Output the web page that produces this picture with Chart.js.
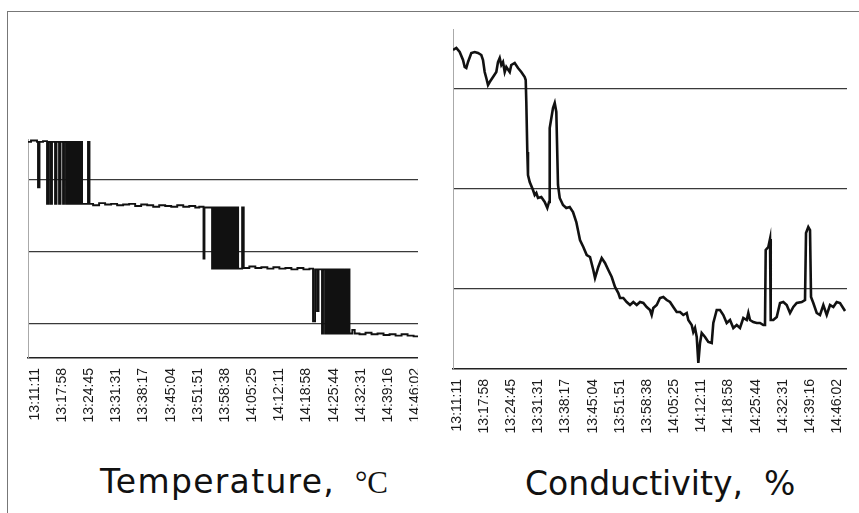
<!DOCTYPE html>
<html>
<head>
<meta charset="utf-8">
<script src="https://cdn.jsdelivr.net/npm/chart.js@4.4.1/dist/chart.umd.min.js"></script>
<style>
    html, body { margin: 0; padding: 0; background: #fff; }
    .page { position: relative; width: 859px; height: 513px; overflow: hidden; }
    .frame { position: absolute; left: 7px; top: 11px; width: 860px; height: 520px;
             border-top: 1px solid #777; border-left: 1px solid #777; }
    canvas { position: absolute; }
    #tempChart { left: 24px; top: 139px; }
    #condChart { left: 449px; top: 29px; }
    .title { position: absolute; font-family: 'DejaVu Sans', Verdana, sans-serif; font-size: 33px;
             line-height: 33px; color: #111; white-space: pre; }
    .title .unit { font-family: 'Liberation Serif', 'Times New Roman', serif; font-size: 31px;
                   letter-spacing: 0; margin-left: 8px; }
    #tempTitle { left: 100px; top: 465px; letter-spacing: 1.3px; }
    #condTitle { left: 525px; top: 467px; }
</style>
</head>
<body>
<div class="page">
    <div class="frame"></div>
    <canvas id="tempChart" width="394" height="299"></canvas>
    <canvas id="condChart" width="398" height="420"></canvas>
    <div class="title" id="tempTitle">Temperature, <span class="unit">°C</span></div>
    <div class="title" id="condTitle">Conductivity,  %</div>
</div>
<script>
// Tick labels (time of day) shared by both panels
const timeLabels = ['13:11:11', '13:17:58', '13:24:45', '13:31:31', '13:38:17', '13:45:04', '13:51:51',
    '13:58:38', '14:05:25', '14:12:11', '14:18:58', '14:25:44', '14:32:31', '14:39:16', '14:46:02'];

// Temperature, minutes after 13:11:11 and value (stepped signal)
const tempTime = [-1.75, -1.0, 0.5, 0.75, 1.12, 2.0, 3.0, 3.37, 3.87, 4.24, 5.0, 5.37, 6.0, 6.37, 7.0, 7.24,
    7.74, 8.0, 8.24, 8.49, 8.74, 9.0, 9.25, 9.5, 9.75, 10.0, 10.25, 10.5, 10.75, 11.0, 11.25, 11.5, 11.74,
    13.23, 13.6, 14.5, 16, 17.5, 19, 20.5, 22, 23.5, 25, 26.5, 28, 29.5, 31, 32.5, 34, 35.5, 37, 38.5, 40, 41,
    42.06, 42.3, 44.2, 44.45, 44.75, 45.0, 45.45, 45.8, 46.2, 46.45,
    46.7, 46.95, 47.2, 47.45, 47.7, 47.95, 48.2, 48.45, 48.7, 48.95, 49.2, 49.45, 49.7, 49.95, 50.2, 50.45, 50.7,
    51.7, 52.1, 53.5, 55, 56.5, 58, 59.5, 61, 62.5, 64, 65.5, 67, 68.5,
    69.4, 69.9, 70.4, 70.77, 71.64, 71.89, 72.4, 72.65,
    72.9, 73.15, 73.4, 73.65, 73.9, 74.15, 74.4, 74.65, 74.9, 75.15, 75.4, 75.65, 75.9, 76.15, 76.4, 76.65, 76.9,
    77.38, 77.76, 78.13, 78.5, 79.2, 79.8, 81, 82.5, 84, 85.5, 87, 88.5, 90, 91.5, 93, 94.5, 95.6];
const tempValue = [32.6, 32.7, 32.6, 29.45, 32.6, 32.65, 28.3, 32.6, 28.3, 32.6, 28.3, 32.6, 28.3, 32.6, 28.3, 32.6,
    28.3, 32.6, 28.3, 32.6, 28.3, 32.6, 28.3, 32.6, 28.3, 32.6, 28.3, 32.6, 28.3, 32.6, 28.3, 32.6, 28.3,
    32.6, 28.3, 28.2, 28.35, 28.25, 28.3, 28.2, 28.25, 28.3, 28.15, 28.25, 28.2, 28.1, 28.2, 28.15, 28.1, 28.2, 28.1, 28.15, 28.05, 28.1,
    24.5, 28.05, 23.8, 28.05, 23.8, 28.05, 23.8, 28.05, 23.8, 28.05,
    23.8, 28.05, 23.8, 28.05, 23.8, 28.05, 23.8, 28.05, 23.8, 28.05, 23.8, 28.05, 23.8, 28.05, 23.8, 28.05, 23.8,
    28.05, 23.85, 23.95, 23.85, 23.9, 23.8, 23.9, 23.8, 23.85, 23.75, 23.85, 23.75, 23.8,
    20.15, 23.75, 20.85, 23.75, 19.3, 23.75, 19.3, 23.75,
    19.3, 23.75, 19.3, 23.75, 19.3, 23.75, 19.3, 23.75, 19.3, 23.75, 19.3, 23.75, 19.3, 23.75, 19.3, 23.75, 19.3,
    23.75, 19.3, 23.75, 19.3, 19.55, 19.3, 19.25, 19.35, 19.25, 19.3, 19.2, 19.25, 19.15, 19.25, 19.15, 19.1, 19.15];
const tempGrid = [20, 25, 30];

// Conductivity, minutes after 13:11:11 and value
const condTime = [-1.0, -0.17, 0.67, 1.5, 1.92, 2.32, 2.75, 3.57, 4.42, 5.24, 6.07, 6.49, 6.91, 7.31, 7.74, 8.16,
    8.99, 9.81, 10.23, 10.66, 11.06, 11.48, 11.91, 12.31, 13.16, 13.55, 14.4, 15.23, 16.05, 16.9, 17.15, 17.3,
    17.55, 17.72, 18.15, 18.97, 19.4, 19.8, 20.22, 21.04, 21.89, 22.54, 22.97, 23.14, 23.96, 24.39, 24.79, 25.21,
    25.64, 26.46, 27.28, 28.13, 28.96, 29.78, 30.7, 31.53, 32.38, 33.2, 34.02, 34.45, 35.27, 36.12, 36.94, 37.77,
    38.62, 39.44, 40.27, 40.69, 41.51, 42.36, 43.19, 44.01, 44.86, 45.68, 46.51, 47.35, 48.18, 48.6, 49.0, 49.85,
    50.67, 51.5, 52.35, 53.17, 53.99, 54.84, 55.67, 56.49, 57.34, 57.74, 58.58, 58.98, 59.41, 59.84, 60.24, 60.66,
    61.08, 61.91, 62.73, 63.58, 63.98, 64.83, 65.65, 66.48, 67.32, 68.15, 68.97, 69.82, 70.64, 71.47, 72.32, 72.72,
    73.14, 73.96, 74.81, 75.64, 76.46, 76.88, 77.06, 77.71, 78.13, 78.31, 78.96, 79.81, 80.63, 81.45, 82.3, 83.13,
    83.95, 84.8, 86.04, 86.87, 87.12, 87.69, 88.12, 88.37, 88.94, 89.79, 90.61, 91.44, 92.29, 93.11, 93.94, 94.78,
    95.61, 96.86];
const condValue = [63.9, 64.1, 63.7, 62.9, 62.2, 62.1, 62.7, 63.6, 63.7, 63.6, 63.4, 62.9, 61.7, 61.1, 60.4, 60.7,
    61.2, 61.7, 62.7, 63.1, 62.4, 62.7, 61.7, 62.2, 61.7, 62.4, 62.6, 62.1, 61.7, 61.2, 60.9, 58.7,
    53.7, 51.4, 50.7, 49.9, 49.4, 49.6, 49.1, 49.2, 48.7, 48.1, 48.7, 56.1, 58.1, 58.6, 57.7, 50.4,
    49.1, 48.4, 48.1, 48.2, 47.7, 46.7, 44.9, 44.2, 43.4, 43.2, 41.9, 41.1, 42.2, 43.1, 42.6, 41.9,
    41.2, 40.2, 39.6, 39.1, 39.1, 38.7, 38.4, 38.7, 38.4, 38.7, 38.6, 38.2, 37.9, 37.4, 38.1, 38.4,
    39.1, 39.2, 38.9, 38.7, 38.2, 37.7, 37.7, 37.4, 37.6, 36.9, 36.4, 35.7, 36.1, 35.2, 32.6, 34.6,
    35.6, 35.2, 34.7, 34.6, 36.6, 37.9, 37.9, 37.4, 36.6, 36.9, 36.1, 36.4, 36.1, 37.1, 36.9, 37.6,
    36.9, 36.7, 36.6, 36.6, 36.4, 36.4, 43.9, 44.2, 45.0, 36.9, 36.9, 37.2, 38.6, 38.7, 38.4, 37.6,
    38.2, 38.6, 38.7, 38.9, 45.6, 46.2, 45.9, 39.2, 38.6, 37.6, 37.4, 38.4, 37.4, 38.4, 38.2, 38.7,
    38.6, 37.8];
const condGrid = [40, 50, 60];

// Helpers
function toMinutes(label) {
    const p = label.split(':').map(Number);
    return p[0] * 60 + p[1] + p[2] / 60;
}
const startMin = toMinutes(timeLabels[0]);
const tickTimes = timeLabels.map(l => toMinutes(l) - startMin);

function toPoints(xs, ys) {
    return xs.map((x, i) => ({ x: x, y: ys[i] }));
}

function buildOptions(xMin, xMax, yMin, yMax, gridValues) {
    return {
        responsive: false,
        animation: false,
        layout: { padding: 0 },
        plugins: { legend: { display: false }, tooltip: { enabled: false } },
        scales: {
            x: {
                type: 'linear',
                min: xMin,
                max: xMax,
                afterBuildTicks: function(scale) {
                    scale.ticks = tickTimes.map(v => ({ value: v }));
                },
                afterFit: function(scale) {
                    scale.height = 80;
                    scale.paddingLeft = 0;
                    scale.paddingRight = 0;
                },
                ticks: {
                    autoSkip: false,
                    minRotation: 90,
                    maxRotation: 90,
                    padding: 10,
                    color: '#1a1a1a',
                    font: { family: "'Liberation Sans', Arial, sans-serif", size: 14 },
                    callback: function(value, index) { return timeLabels[index]; }
                },
                grid: { display: false, drawTicks: false },
                border: { display: true, color: '#222', width: 1.6 }
            },
            y: {
                type: 'linear',
                min: yMin,
                max: yMax,
                afterBuildTicks: function(scale) {
                    scale.ticks = gridValues.map(v => ({ value: v }));
                },
                afterFit: function(scale) {
                    scale.width = 4;
                    scale.paddingTop = 0;
                    scale.paddingBottom = 0;
                },
                ticks: { display: false },
                grid: { color: '#3a3a3a', lineWidth: 1.3, drawTicks: false },
                border: { display: true, color: '#aaa', width: 1 }
            }
        }
    };
}

// Temperature chart
new Chart(document.getElementById('tempChart'), {
    type: 'line',
    data: {
        datasets: [{
            data: toPoints(tempTime, tempValue),
            borderColor: '#111',
            borderWidth: 1.9,
            pointRadius: 0,
            stepped: true,
            fill: false
        }]
    },
    options: buildOptions(-1.75, 95.6, 17.6, 32.8, tempGrid)
});

// Conductivity chart
new Chart(document.getElementById('condChart'), {
    type: 'line',
    data: {
        datasets: [{
            data: toPoints(condTime, condValue),
            borderColor: '#111',
            borderWidth: 2.6,
            pointRadius: 0,
            tension: 0,
            fill: false
        }]
    },
    options: buildOptions(-1.0, 97.35, 32, 66, condGrid)
});
</script>
</body>
</html>
